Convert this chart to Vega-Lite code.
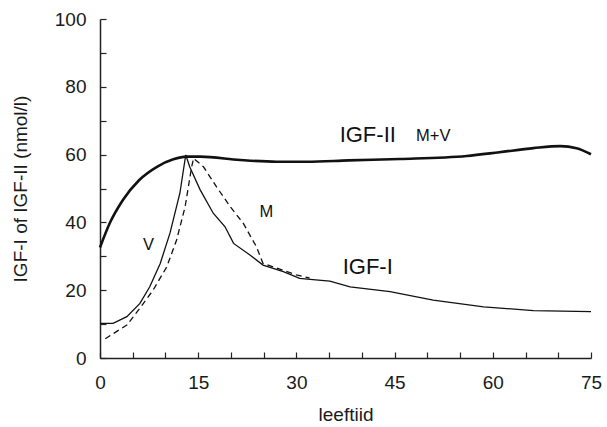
{
  "$schema": "https://vega.github.io/schema/vega-lite/v6.json",
  "width": 491,
  "height": 339,
  "autosize": {"type": "none"},
  "padding": {"left": 100, "top": 19, "right": 16, "bottom": 69},
  "background": "white",
  "config": {
    "view": {"stroke": null},
    "font": "Liberation Sans",
    "axis": {
      "grid": false,
      "domainColor": "#222",
      "domainWidth": 1.5,
      "tickColor": "#222",
      "tickWidth": 1.2,
      "tickSize": -6,
      "labelFont": "Liberation Sans",
      "labelFontSize": 19,
      "labelColor": "#1a1a1a",
      "titleFont": "Liberation Sans",
      "titleFontSize": 19,
      "titleFontWeight": "normal",
      "titleColor": "#1a1a1a"
    }
  },
  "datasets": {
    "curves": [
      {"age": 0, "value": 32.6, "series": "IGF-II"},
      {"age": 1.5, "value": 39.8, "series": "IGF-II"},
      {"age": 3.5, "value": 46.6, "series": "IGF-II"},
      {"age": 6, "value": 52.5, "series": "IGF-II"},
      {"age": 8.7, "value": 56.4, "series": "IGF-II"},
      {"age": 11.2, "value": 58.6, "series": "IGF-II"},
      {"age": 13.2, "value": 59.4, "series": "IGF-II"},
      {"age": 15.3, "value": 59.4, "series": "IGF-II"},
      {"age": 21.4, "value": 58.4, "series": "IGF-II"},
      {"age": 27, "value": 57.9, "series": "IGF-II"},
      {"age": 31.6, "value": 57.9, "series": "IGF-II"},
      {"age": 38, "value": 58.3, "series": "IGF-II"},
      {"age": 45.8, "value": 58.7, "series": "IGF-II"},
      {"age": 56, "value": 59.6, "series": "IGF-II"},
      {"age": 61, "value": 60.7, "series": "IGF-II"},
      {"age": 66.2, "value": 61.9, "series": "IGF-II"},
      {"age": 70.3, "value": 62.5, "series": "IGF-II"},
      {"age": 72.8, "value": 61.9, "series": "IGF-II"},
      {"age": 75, "value": 60.1, "series": "IGF-II"},
      {"age": 0, "value": 10.2, "series": "V"},
      {"age": 2, "value": 10.2, "series": "V"},
      {"age": 4.1, "value": 12.2, "series": "V"},
      {"age": 6.1, "value": 16.1, "series": "V"},
      {"age": 7.6, "value": 21, "series": "V"},
      {"age": 9.2, "value": 27.9, "series": "V"},
      {"age": 10.7, "value": 36.9, "series": "V"},
      {"age": 12.2, "value": 48.6, "series": "V"},
      {"age": 13.1, "value": 59.9, "series": "V"},
      {"age": 13.7, "value": 56.4, "series": "V"},
      {"age": 15.3, "value": 49.6, "series": "V"},
      {"age": 17.3, "value": 42.7, "series": "V"},
      {"age": 19.1, "value": 38.7, "series": "V"},
      {"age": 20.4, "value": 33.8, "series": "V"},
      {"age": 22.9, "value": 30.4, "series": "V"},
      {"age": 24.9, "value": 27.4, "series": "V"},
      {"age": 28, "value": 25.5, "series": "V"},
      {"age": 30.5, "value": 23.5, "series": "V"},
      {"age": 32.1, "value": 23.2, "series": "V"},
      {"age": 35.1, "value": 22.7, "series": "V"},
      {"age": 38.2, "value": 21, "series": "V"},
      {"age": 44.3, "value": 19.6, "series": "V"},
      {"age": 50.9, "value": 17.1, "series": "V"},
      {"age": 58.6, "value": 15.1, "series": "V"},
      {"age": 66.2, "value": 14, "series": "V"},
      {"age": 75, "value": 13.7, "series": "V"},
      {"age": 0.8, "value": 5.7, "series": "M"},
      {"age": 4.1, "value": 9.7, "series": "M"},
      {"age": 6.1, "value": 14.7, "series": "M"},
      {"age": 8.1, "value": 20, "series": "M"},
      {"age": 10.2, "value": 26.9, "series": "M"},
      {"age": 11.7, "value": 34.8, "series": "M"},
      {"age": 13, "value": 44.6, "series": "M"},
      {"age": 14, "value": 56.4, "series": "M"},
      {"age": 14.3, "value": 58.9, "series": "M"},
      {"age": 15.8, "value": 56.4, "series": "M"},
      {"age": 17.8, "value": 50.5, "series": "M"},
      {"age": 19.9, "value": 44.6, "series": "M"},
      {"age": 21.9, "value": 39.7, "series": "M"},
      {"age": 23.9, "value": 32.8, "series": "M"},
      {"age": 24.9, "value": 27.9, "series": "M"},
      {"age": 27, "value": 26.5, "series": "M"},
      {"age": 30, "value": 24.5, "series": "M"},
      {"age": 32, "value": 23.6, "series": "M"}
    ],
    "labels": [
      {"age": 40.9, "value": 65.8, "text": "IGF-II", "size": "big"},
      {"age": 50.9, "value": 65.5, "text": "M+V", "size": "small"},
      {"age": 40.9, "value": 26.9, "text": "IGF-I", "size": "big"},
      {"age": 25.4, "value": 43.2, "text": "M", "size": "small"},
      {"age": 7.4, "value": 33.3, "text": "V", "size": "small"}
    ]
  },
  "encoding": {
    "x": {
      "field": "age", "type": "quantitative",
      "scale": {"domain": [0, 75], "nice": false, "zero": false},
      "axis": {
        "title": "leeftiid",
        "values": [0, 5, 10, 15, 20, 25, 30, 35, 40, 45, 50, 55, 60, 65, 70, 75],
        "labelExpr": "datum.value % 15 === 0 ? datum.label : ''",
        "labelPadding": 21,
        "titlePadding": 13,
        "labelFlush": false
      }
    },
    "y": {
      "field": "value", "type": "quantitative",
      "scale": {"domain": [0, 100], "nice": false},
      "axis": {
        "title": "IGF-I of IGF-II (nmol/l)",
        "values": [0, 10, 20, 30, 40, 50, 60, 70, 80, 90, 100],
        "labelExpr": "datum.value % 20 === 0 ? datum.label : ''",
        "labelPadding": 20,
        "titlePadding": 24,
        "labelFlush": false
      }
    }
  },
  "layer": [
    {
      "data": {"name": "curves"},
      "transform": [{"filter": "datum.series === 'IGF-II'"}],
      "mark": {"type": "line", "interpolate": "monotone", "color": "#111", "strokeWidth": 2.6}
    },
    {
      "data": {"name": "curves"},
      "transform": [{"filter": "datum.series === 'V'"}],
      "mark": {"type": "line", "color": "#111", "strokeWidth": 1.3}
    },
    {
      "data": {"name": "curves"},
      "transform": [{"filter": "datum.series === 'M'"}],
      "mark": {"type": "line", "color": "#111", "strokeWidth": 1.3, "strokeDash": [6, 4]}
    },
    {
      "data": {"name": "labels"},
      "transform": [{"filter": "datum.size === 'big'"}],
      "mark": {"type": "text", "fontSize": 22, "color": "#111", "align": "center", "baseline": "middle", "font": "Liberation Sans"},
      "encoding": {"text": {"field": "text"}}
    },
    {
      "data": {"name": "labels"},
      "transform": [{"filter": "datum.size === 'small'"}],
      "mark": {"type": "text", "fontSize": 16.5, "color": "#111", "align": "center", "baseline": "middle", "font": "Liberation Sans"},
      "encoding": {"text": {"field": "text"}}
    }
  ]
}
